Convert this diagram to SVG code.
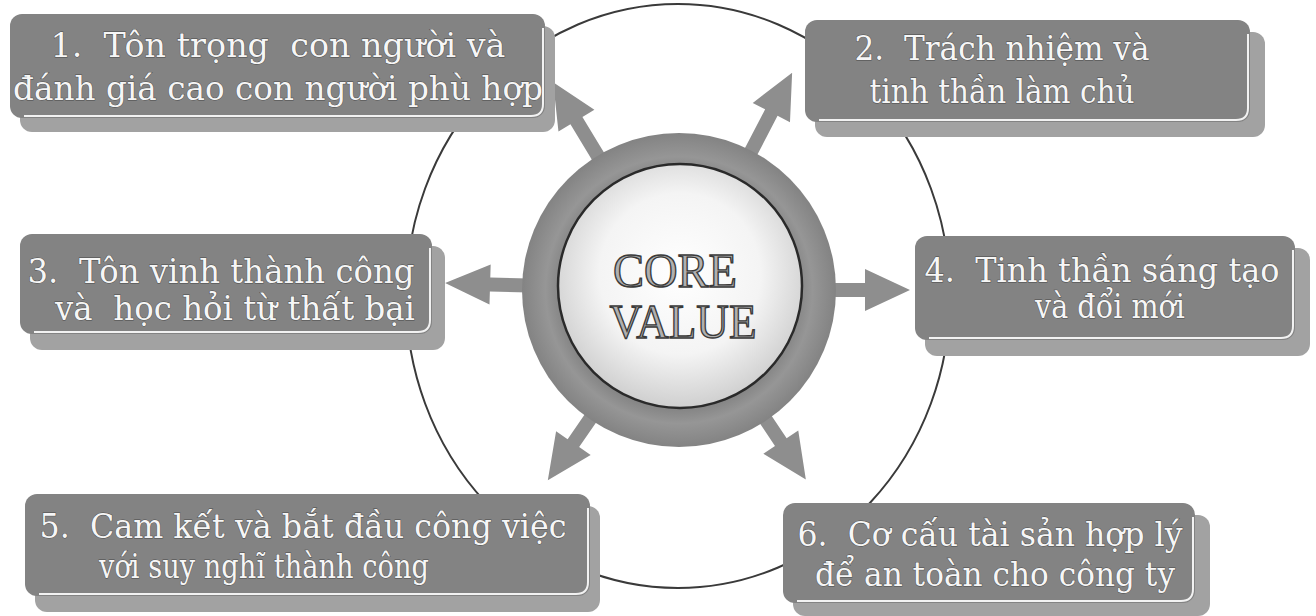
<svg xmlns="http://www.w3.org/2000/svg" width="1316" height="616" viewBox="0 0 1316 616">
  <defs>
    <radialGradient id="ringGrad" cx="0.5" cy="0.5" r="0.5">
      <stop offset="0.7" stop-color="#7a7a7a"/>
      <stop offset="0.85" stop-color="#969696"/>
      <stop offset="1" stop-color="#838383"/>
    </radialGradient>
    <radialGradient id="coreGrad" cx="0.5" cy="0.45" r="0.55">
      <stop offset="0" stop-color="#ffffff"/>
      <stop offset="0.6" stop-color="#f4f4f4"/>
      <stop offset="1" stop-color="#cfcfcf"/>
    </radialGradient>
  </defs>
  <style>
    .shadow { fill: #a2a2a2; }
    .box { fill: #838383; }
    .hl { fill: none; stroke: #f2f2f2; stroke-width: 2; }
    .lbl { font-family: "DejaVu Serif", "Liberation Serif", serif; font-size: 33px; fill: #f6f6f6; stroke: #4a4a4a; stroke-width: 0.9; paint-order: stroke; text-anchor: middle; }
    .core { font-family: "Liberation Serif", "DejaVu Serif", serif; font-size: 48px; fill: #b0b0b0; stroke: #3a3a3a; stroke-width: 1.4; text-anchor: middle; }
    .arrow { fill: #8e8e8e; }
    .orbit { fill: none; stroke: #3a3a3a; stroke-width: 2; }
  </style>
  <rect width="1316" height="616" fill="#ffffff"/>

  <g id="connectors">
    <ellipse class="orbit" cx="678" cy="296" rx="272" ry="292"/>
    <g transform="translate(679,290) rotate(-121.2)"><polygon class="arrow" points="140,-7 198,-7 198,-21 243,0 198,21 198,7 140,7"/></g>
    <g transform="translate(679,290) rotate(-62.5)"><polygon class="arrow" points="140,-7 200,-7 200,-21 245,0 200,21 200,7 140,7"/></g>
    <g transform="translate(679,290) rotate(181.7)"><polygon class="arrow" points="140,-7 189,-7 189,-20 234,0 189,20 189,7 140,7"/></g>
    <g transform="translate(679,290) rotate(0)"><polygon class="arrow" points="140,-7 186,-7 186,-21 231,0 186,21 186,7 140,7"/></g>
    <g transform="translate(679,290) rotate(124.6)"><polygon class="arrow" points="140,-7 186,-7 186,-21 231,0 186,21 186,7 140,7"/></g>
    <g transform="translate(679,290) rotate(56.2)"><polygon class="arrow" points="140,-7 183,-7 183,-21 228,0 183,21 183,7 140,7"/></g>
  </g>

  <g id="core">
    <circle cx="679" cy="290" r="157" fill="url(#ringGrad)"/>
    <circle cx="680" cy="286" r="122" fill="url(#coreGrad)" stroke="#2a2a2a" stroke-width="2.5"/>
    <text class="core" x="675" y="287" textLength="124" lengthAdjust="spacingAndGlyphs">CORE</text>
    <text class="core" x="683" y="338" textLength="147" lengthAdjust="spacingAndGlyphs">VALUE</text>
  </g>

  <g id="node1">
    <rect class="shadow" x="20" y="26" width="535" height="106" rx="12"/>
    <rect class="box" x="10" y="14" width="535" height="104" rx="12"/>
    <path class="hl" d="M543,28 V104 Q543,116 531,116 H24"/>
    <text class="lbl" x="278" y="57" xml:space="preserve" textLength="455" lengthAdjust="spacingAndGlyphs">1.  Tôn trọng  con người và</text>
    <text class="lbl" x="278" y="100" textLength="530" lengthAdjust="spacingAndGlyphs">đánh giá cao con người phù hợp</text>
  </g>

  <g id="node2">
    <rect class="shadow" x="815" y="32" width="450" height="105" rx="12"/>
    <rect class="box" x="805" y="20" width="445" height="102" rx="12"/>
    <path class="hl" d="M1248,34 V108 Q1248,120 1236,120 H819"/>
    <text class="lbl" x="1002" y="60" xml:space="preserve" textLength="295" lengthAdjust="spacingAndGlyphs">2.  Trách nhiệm và</text>
    <text class="lbl" x="1002" y="103" textLength="265" lengthAdjust="spacingAndGlyphs">tinh thần làm chủ</text>
  </g>

  <g id="node3">
    <rect class="shadow" x="30" y="246" width="415" height="104" rx="12"/>
    <rect class="box" x="20" y="234" width="412" height="100" rx="12"/>
    <path class="hl" d="M430,248 V320 Q430,332 418,332 H34"/>
    <text class="lbl" x="221" y="283" xml:space="preserve" textLength="387" lengthAdjust="spacingAndGlyphs">3.  Tôn vinh thành công</text>
    <text class="lbl" x="235" y="320" xml:space="preserve" textLength="360" lengthAdjust="spacingAndGlyphs">và  học hỏi từ thất bại</text>
  </g>

  <g id="node4">
    <rect class="shadow" x="925" y="248" width="385" height="108" rx="12"/>
    <rect class="box" x="915" y="236" width="380" height="104" rx="12"/>
    <path class="hl" d="M1293,250 V326 Q1293,338 1281,338 H929"/>
    <text class="lbl" x="1102" y="282" xml:space="preserve" textLength="355" lengthAdjust="spacingAndGlyphs">4.  Tinh thần sáng tạo</text>
    <text class="lbl" x="1110" y="318" textLength="150" lengthAdjust="spacingAndGlyphs">và đổi mới</text>
  </g>

  <g id="node5">
    <rect class="shadow" x="35" y="506" width="565" height="106" rx="12"/>
    <rect class="box" x="25" y="494" width="565" height="102" rx="12"/>
    <path class="hl" d="M588,508 V582 Q588,594 576,594 H39"/>
    <text class="lbl" x="303" y="538" xml:space="preserve" textLength="527" lengthAdjust="spacingAndGlyphs">5.  Cam kết và bắt đầu công việc</text>
    <text class="lbl" x="264" y="578" textLength="330" lengthAdjust="spacingAndGlyphs">với suy nghĩ thành công</text>
  </g>

  <g id="node6">
    <rect class="shadow" x="793" y="515" width="417" height="101" rx="12"/>
    <rect class="box" x="783" y="503" width="412" height="100" rx="12"/>
    <path class="hl" d="M1193,517 V589 Q1193,601 1181,601 H797"/>
    <text class="lbl" x="990" y="546" xml:space="preserve" textLength="385" lengthAdjust="spacingAndGlyphs">6.  Cơ cấu tài sản hợp lý</text>
    <text class="lbl" x="995" y="586" textLength="360" lengthAdjust="spacingAndGlyphs">để an toàn cho công ty</text>
  </g>
</svg>
